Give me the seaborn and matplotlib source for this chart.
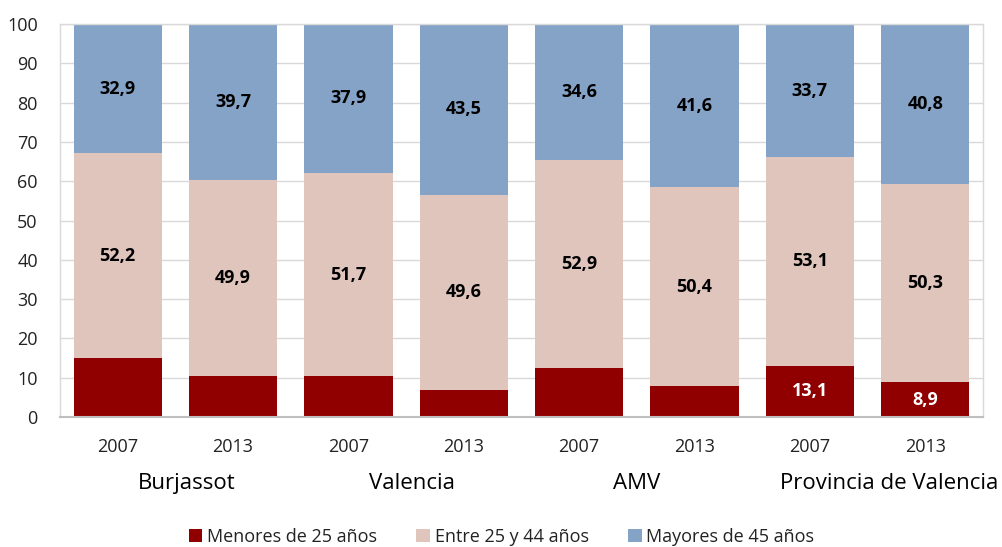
import matplotlib
matplotlib.use("Agg")
import matplotlib.pyplot as plt
import seaborn as sns
import pandas as pd
import numpy as np
from matplotlib.patches import Patch

groups = ["Burjassot", "Valencia", "AMV", "Provincia de Valencia"]
years = ["2007", "2013", "2007", "2013", "2007", "2013", "2007", "2013"]
menores = [14.9, 10.4, 10.4, 6.9, 12.5, 8.0, 13.1, 8.9]
entre = [52.2, 49.9, 51.7, 49.6, 52.9, 50.4, 53.1, 50.3]
mayores = [32.9, 39.7, 37.9, 43.5, 34.6, 41.6, 33.7, 40.8]
show_menores = [False, False, False, False, False, False, True, True]
series_names = ["Menores de 25 años", "Entre 25 y 44 años", "Mayores de 45 años"]

c_red = "#900000"
c_pink = "#E0C5BD"
c_blue = "#84A3C6"

sns.set_theme(style="white")
plt.rcParams["font.family"] = ["Open Sans", "DejaVu Sans"]

idx = [f"b{i}" for i in range(len(years))]
df = pd.DataFrame({"bar": idx, "men": menores, "ent": entre, "may": mayores})
df["c1"] = df["men"]
df["c2"] = df["men"] + df["ent"]
df["c3"] = df["c2"] + df["may"]

fig = plt.figure(figsize=(10.03, 5.47), dpi=100)
ax = fig.add_axes([60 / 1003, 1 - 417 / 547, (983 - 60) / 1003, (417 - 24) / 547])

w = 0.765
for col, c in [("c3", c_blue), ("c2", c_pink), ("c1", c_red)]:
    sns.barplot(data=df, x="bar", y=col, color=c, width=w, saturation=1, ax=ax,
                order=idx, linewidth=0, edgecolor="none")

ax.set_xlim(-0.5, len(years) - 0.5)
ax.set_ylim(0, 100)
ax.set_yticks(np.arange(0, 101, 10))
ax.set_xticks(range(len(years)))
ax.set_xticklabels(years, fontsize=13, color="#222222")
ax.tick_params(axis="y", labelsize=13, labelcolor="#222222", length=0, pad=16)
ax.tick_params(axis="x", length=0, pad=15)
ax.set_xlabel("")
ax.set_ylabel("")
ax.yaxis.grid(True, color="#D9D9D9", linewidth=1)
ax.set_axisbelow(True)
for s in ["left", "right", "top"]:
    ax.spines[s].set_visible(True)
    ax.spines[s].set_color("#D9D9D9")
    ax.spines[s].set_linewidth(1)
ax.spines["bottom"].set_color("#BFBFBF")
ax.spines["bottom"].set_linewidth(1.5)

def fmt(v):
    return f"{v:.1f}".replace(".", ",")

for i in range(len(years)):
    ax.text(i, df["c2"][i] + mayores[i] / 2, fmt(mayores[i]), ha="center", va="center",
            fontsize=13, fontweight="bold", color="black")
    ax.text(i, menores[i] + entre[i] / 2, fmt(entre[i]), ha="center", va="center",
            fontsize=13, fontweight="bold", color="black")
    if show_menores[i]:
        ax.text(i, menores[i] / 2, fmt(menores[i]), ha="center", va="center",
                fontsize=13, fontweight="bold", color="white")

group_x = [0.60, 2.55, 4.50, 6.69]
for g, gx in zip(groups, group_x):
    ax.text(gx, -16.8, g, ha="center", va="center", fontsize=16, color="black",
            transform=ax.transData, clip_on=False)

handles = [Patch(facecolor=c, edgecolor="none") for c in [c_red, c_pink, c_blue]]
fig.legend(handles, series_names, loc="center", bbox_to_anchor=(0.5, 1 - 537 / 547),
           ncol=3, frameon=False, fontsize=13, handlelength=0.75, handleheight=0.75,
           handletextpad=0.25, columnspacing=2.2, labelcolor="#222222")

fig.savefig("out.png", dpi=100)
